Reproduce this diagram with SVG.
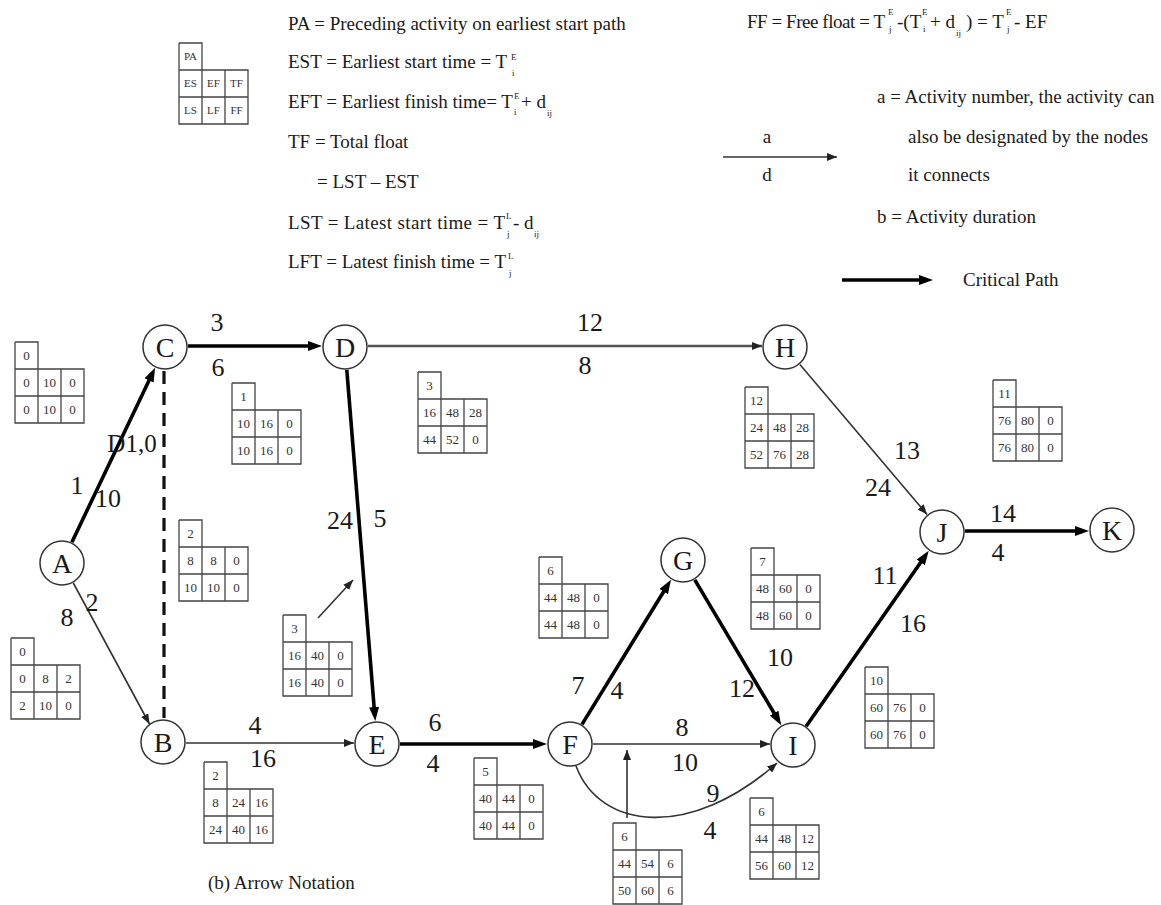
<svg xmlns="http://www.w3.org/2000/svg" xmlns:xlink="http://www.w3.org/1999/xlink" width="1161" height="905" viewBox="0 0 1161 905" font-family="'Liberation Serif','Times New Roman',serif">
<defs>
<style>
text{font-family:"Liberation Serif","Times New Roman",serif;fill:#1a1a1a}
.nc{fill:#fff;stroke:#333;stroke-width:1.5}
.nl{font-size:28px;text-anchor:middle}
.el{font-size:26px;text-anchor:middle}
.lg{font-size:19px}
.sm{font-size:9px}
.thin{fill:none;stroke:#333;stroke-width:1.6;marker-end:url(#ah)}
.gray{fill:none;stroke:#555;stroke-width:2.4;marker-end:url(#ah)}
.bold{fill:none;stroke:#000;stroke-width:3.6;marker-end:url(#ahb)}
.dash{fill:none;stroke:#111;stroke-width:3.2;stroke-dasharray:13 8}
.frame{fill:none;stroke:#444;stroke-width:1.3}
.bt{font-size:13px;text-anchor:middle;fill:#333}
.bl{font-size:11px;text-anchor:middle;fill:#333}
</style>
<marker id="ah" viewBox="0 0 10 8" markerWidth="10" markerHeight="8" refX="10" refY="4" orient="auto" markerUnits="userSpaceOnUse"><path d="M0,0 L10,4 L0,8 z" fill="#222"/></marker>
<marker id="ahb" viewBox="0 0 14 10" markerWidth="14" markerHeight="10" refX="1" refY="5" orient="auto" markerUnits="userSpaceOnUse"><path d="M0,0 L14,5 L0,10 z" fill="#000"/></marker>
<path id="bf" class="frame" d="M0,0 H23 V27 M0,0 V81 H69 V27 H0 M23,27 V81 M46,27 V81 M0,54 H69"/>
</defs>
<rect width="1161" height="905" fill="#fff"/>

<!-- legend -->
<g id="legend">
<g transform="translate(179,43)"><use xlink:href="#bf"/><text class="bl" x="11.5" y="17">PA</text><text class="bl" x="11.5" y="44">ES</text><text class="bl" x="34.5" y="44">EF</text><text class="bl" x="57.5" y="44">TF</text><text class="bl" x="11.5" y="71">LS</text><text class="bl" x="34.5" y="71">LF</text><text class="bl" x="57.5" y="71">FF</text></g>
<text class="lg" x="288" y="30">PA = Preceding activity on earliest start path</text>
<text class="lg" x="288" y="68">EST = Earliest start time = T</text>
<text class="sm" x="511" y="60">E</text><text class="sm" x="512" y="76">i</text>
<text class="lg" x="288" y="108">EFT = Earliest finish time= T</text>
<text class="sm" x="514" y="99">E</text><text class="sm" x="514" y="115">i</text>
<text class="lg" x="521" y="108">+ d</text><text class="sm" x="547" y="116">ij</text>
<text class="lg" x="288" y="148">TF = Total float</text>
<text class="lg" x="317" y="188">= LST – EST</text>
<text class="lg" x="288" y="229" textLength="217" lengthAdjust="spacing">LST = Latest start time = T</text>
<text class="sm" x="506" y="219">L</text><text class="sm" x="507" y="237">j</text>
<text class="lg" x="513" y="229">- d</text><text class="sm" x="534" y="237">ij</text>
<text class="lg" x="288" y="268">LFT = Latest finish time = T</text>
<text class="sm" x="508" y="259">L</text><text class="sm" x="509" y="276">j</text>

<text class="lg" x="747" y="28" textLength="138" lengthAdjust="spacing">FF = Free float = T</text>
<text class="sm" x="888" y="15">E</text><text class="sm" x="889" y="32">j</text>
<text class="lg" x="897" y="28">-(T</text>
<text class="sm" x="922" y="15">E</text><text class="sm" x="923" y="32">i</text>
<text class="lg" x="930" y="28">+ d</text><text class="sm" x="956" y="36">ij</text>
<text class="lg" x="966" y="28">) = T</text>
<text class="sm" x="1006" y="15">E</text><text class="sm" x="1007" y="32">j</text>
<text class="lg" x="1014" y="28">- EF</text>

<line class="thin" x1="723" y1="157" x2="837" y2="157"/>
<text class="lg" x="767" y="143" text-anchor="middle">a</text>
<text class="lg" x="767" y="181" text-anchor="middle">d</text>
<text class="lg" x="877" y="103">a = Activity number, the activity can</text>
<text class="lg" x="908" y="143">also be designated by the nodes</text>
<text class="lg" x="908" y="181">it connects</text>
<text class="lg" x="877" y="223">b = Activity duration</text>
<line class="bold" x1="842" y1="280" x2="920" y2="280"/>
<text class="lg" x="963" y="286">Critical Path</text>
<text class="lg" x="208" y="889">(b) Arrow Notation</text>
</g>

<!-- connectors -->
<g id="connectors">
<line class="bold" x1="71.9" y1="542.2" x2="149.5" y2="379.5"/>
<line class="thin" x1="73.3" y1="583" x2="149.5" y2="724"/>
<line class="dash" x1="164" y1="371" x2="164" y2="718"/>
<line class="bold" x1="188" y1="346" x2="309" y2="346"/>
<line class="gray" x1="368" y1="346" x2="762" y2="346"/>
<line class="bold" x1="346.8" y1="369.9" x2="374.2" y2="708.1"/>
<line class="thin" x1="186" y1="743" x2="354" y2="743"/>
<line class="bold" x1="400" y1="744" x2="534" y2="744"/>
<line class="bold" x1="582" y1="724.4" x2="664.2" y2="590.7"/>
<line class="bold" x1="694.8" y1="579.8" x2="774.6" y2="714"/>
<line class="thin" x1="593" y1="744" x2="770" y2="744"/>
<path class="thin" d="M576,766 C600,830 690,840 777,763"/>
<line class="thin" x1="799.9" y1="364.5" x2="927.1" y2="514.5"/>
<line class="bold" x1="806.2" y1="726.2" x2="921.3" y2="561.5"/>
<line class="bold" x1="965" y1="531" x2="1076" y2="531"/>
<line class="thin" x1="318" y1="618" x2="353" y2="580"/>
<line class="thin" x1="627" y1="818" x2="627" y2="750"/>
</g>

<!-- edge labels -->
<g id="edge-labels">
<text class="el" x="77" y="494">1</text>
<text class="el" x="108" y="507">10</text>
<text class="el" x="67" y="626">8</text>
<text class="el" x="92" y="611">2</text>
<text class="el" x="132" y="452" text-anchor="start" style="font-size:25px">D1,0</text>
<text class="el" x="217" y="331">3</text>
<text class="el" x="218" y="376">6</text>
<text class="el" x="590" y="331">12</text>
<text class="el" x="585" y="374">8</text>
<text class="el" x="340" y="529">24</text>
<text class="el" x="380" y="527">5</text>
<text class="el" x="255" y="734">4</text>
<text class="el" x="263" y="767">16</text>
<text class="el" x="435" y="731">6</text>
<text class="el" x="433" y="772">4</text>
<text class="el" x="578" y="694">7</text>
<text class="el" x="617" y="699">4</text>
<text class="el" x="682" y="736">8</text>
<text class="el" x="685" y="771">10</text>
<text class="el" x="780" y="666">10</text>
<text class="el" x="742" y="697">12</text>
<text class="el" x="713" y="802">9</text>
<text class="el" x="710" y="839">4</text>
<text class="el" x="907" y="459">13</text>
<text class="el" x="878" y="496">24</text>
<text class="el" x="885" y="584">11</text>
<text class="el" x="913" y="632">16</text>
<text class="el" x="1003" y="522">14</text>
<text class="el" x="998" y="561">4</text>
</g>

<!-- nodes -->
<g id="node-A"><circle class="nc" cx="62" cy="563" r="22"/><text class="nl" x="62" y="573">A</text></g>
<g id="node-B"><circle class="nc" cx="163" cy="742" r="22"/><text class="nl" x="163" y="752">B</text></g>
<g id="node-C"><circle class="nc" cx="165" cy="347" r="22"/><text class="nl" x="165" y="357">C</text></g>
<g id="node-D"><circle class="nc" cx="345" cy="347" r="22"/><text class="nl" x="345" y="357">D</text></g>
<g id="node-E"><circle class="nc" cx="377" cy="744" r="22"/><text class="nl" x="377" y="754">E</text></g>
<g id="node-F"><circle class="nc" cx="570" cy="744" r="22"/><text class="nl" x="570" y="754">F</text></g>
<g id="node-G"><circle class="nc" cx="683" cy="560" r="22"/><text class="nl" x="683" y="570">G</text></g>
<g id="node-H"><circle class="nc" cx="785" cy="347" r="22"/><text class="nl" x="785" y="357">H</text></g>
<g id="node-I"><circle class="nc" cx="793" cy="745" r="22"/><text class="nl" x="793" y="755">I</text></g>
<g id="node-J"><circle class="nc" cx="942" cy="532" r="22"/><text class="nl" x="942" y="542">J</text></g>
<g id="node-K"><circle class="nc" cx="1112" cy="530" r="22"/><text class="nl" x="1112" y="540">K</text></g>

<!-- activity boxes -->
<g id="box-A0" transform="translate(15,342)"><use xlink:href="#bf"/><text class="bt" x="11.5" y="18">0</text><text class="bt" x="11.5" y="45">0</text><text class="bt" x="34.5" y="45">10</text><text class="bt" x="57.5" y="45">0</text><text class="bt" x="11.5" y="72">0</text><text class="bt" x="34.5" y="72">10</text><text class="bt" x="57.5" y="72">0</text></g>
<g id="box-1" transform="translate(232,383)"><use xlink:href="#bf"/><text class="bt" x="11.5" y="18">1</text><text class="bt" x="11.5" y="45">10</text><text class="bt" x="34.5" y="45">16</text><text class="bt" x="57.5" y="45">0</text><text class="bt" x="11.5" y="72">10</text><text class="bt" x="34.5" y="72">16</text><text class="bt" x="57.5" y="72">0</text></g>
<g id="box-2a" transform="translate(179,520)"><use xlink:href="#bf"/><text class="bt" x="11.5" y="18">2</text><text class="bt" x="11.5" y="45">8</text><text class="bt" x="34.5" y="45">8</text><text class="bt" x="57.5" y="45">0</text><text class="bt" x="11.5" y="72">10</text><text class="bt" x="34.5" y="72">10</text><text class="bt" x="57.5" y="72">0</text></g>
<g id="box-3a" transform="translate(418,372)"><use xlink:href="#bf"/><text class="bt" x="11.5" y="18">3</text><text class="bt" x="11.5" y="45">16</text><text class="bt" x="34.5" y="45">48</text><text class="bt" x="57.5" y="45">28</text><text class="bt" x="11.5" y="72">44</text><text class="bt" x="34.5" y="72">52</text><text class="bt" x="57.5" y="72">0</text></g>
<g id="box-12" transform="translate(745,387)"><use xlink:href="#bf"/><text class="bt" x="11.5" y="18">12</text><text class="bt" x="11.5" y="45">24</text><text class="bt" x="34.5" y="45">48</text><text class="bt" x="57.5" y="45">28</text><text class="bt" x="11.5" y="72">52</text><text class="bt" x="34.5" y="72">76</text><text class="bt" x="57.5" y="72">28</text></g>
<g id="box-11" transform="translate(993,380)"><use xlink:href="#bf"/><text class="bt" x="11.5" y="18">11</text><text class="bt" x="11.5" y="45">76</text><text class="bt" x="34.5" y="45">80</text><text class="bt" x="57.5" y="45">0</text><text class="bt" x="11.5" y="72">76</text><text class="bt" x="34.5" y="72">80</text><text class="bt" x="57.5" y="72">0</text></g>
<g id="box-6a" transform="translate(539,557)"><use xlink:href="#bf"/><text class="bt" x="11.5" y="18">6</text><text class="bt" x="11.5" y="45">44</text><text class="bt" x="34.5" y="45">48</text><text class="bt" x="57.5" y="45">0</text><text class="bt" x="11.5" y="72">44</text><text class="bt" x="34.5" y="72">48</text><text class="bt" x="57.5" y="72">0</text></g>
<g id="box-7" transform="translate(751,548)"><use xlink:href="#bf"/><text class="bt" x="11.5" y="18">7</text><text class="bt" x="11.5" y="45">48</text><text class="bt" x="34.5" y="45">60</text><text class="bt" x="57.5" y="45">0</text><text class="bt" x="11.5" y="72">48</text><text class="bt" x="34.5" y="72">60</text><text class="bt" x="57.5" y="72">0</text></g>
<g id="box-A1" transform="translate(11,638)"><use xlink:href="#bf"/><text class="bt" x="11.5" y="18">0</text><text class="bt" x="11.5" y="45">0</text><text class="bt" x="34.5" y="45">8</text><text class="bt" x="57.5" y="45">2</text><text class="bt" x="11.5" y="72">2</text><text class="bt" x="34.5" y="72">10</text><text class="bt" x="57.5" y="72">0</text></g>
<g id="box-3b" transform="translate(283,615)"><use xlink:href="#bf"/><text class="bt" x="11.5" y="18">3</text><text class="bt" x="11.5" y="45">16</text><text class="bt" x="34.5" y="45">40</text><text class="bt" x="57.5" y="45">0</text><text class="bt" x="11.5" y="72">16</text><text class="bt" x="34.5" y="72">40</text><text class="bt" x="57.5" y="72">0</text></g>
<g id="box-10" transform="translate(865,667)"><use xlink:href="#bf"/><text class="bt" x="11.5" y="18">10</text><text class="bt" x="11.5" y="45">60</text><text class="bt" x="34.5" y="45">76</text><text class="bt" x="57.5" y="45">0</text><text class="bt" x="11.5" y="72">60</text><text class="bt" x="34.5" y="72">76</text><text class="bt" x="57.5" y="72">0</text></g>
<g id="box-2b" transform="translate(204,762)"><use xlink:href="#bf"/><text class="bt" x="11.5" y="18">2</text><text class="bt" x="11.5" y="45">8</text><text class="bt" x="34.5" y="45">24</text><text class="bt" x="57.5" y="45">16</text><text class="bt" x="11.5" y="72">24</text><text class="bt" x="34.5" y="72">40</text><text class="bt" x="57.5" y="72">16</text></g>
<g id="box-5" transform="translate(474,758)"><use xlink:href="#bf"/><text class="bt" x="11.5" y="18">5</text><text class="bt" x="11.5" y="45">40</text><text class="bt" x="34.5" y="45">44</text><text class="bt" x="57.5" y="45">0</text><text class="bt" x="11.5" y="72">40</text><text class="bt" x="34.5" y="72">44</text><text class="bt" x="57.5" y="72">0</text></g>
<g id="box-6b" transform="translate(613,823)"><use xlink:href="#bf"/><text class="bt" x="11.5" y="18">6</text><text class="bt" x="11.5" y="45">44</text><text class="bt" x="34.5" y="45">54</text><text class="bt" x="57.5" y="45">6</text><text class="bt" x="11.5" y="72">50</text><text class="bt" x="34.5" y="72">60</text><text class="bt" x="57.5" y="72">6</text></g>
<g id="box-6c" transform="translate(750,798)"><use xlink:href="#bf"/><text class="bt" x="11.5" y="18">6</text><text class="bt" x="11.5" y="45">44</text><text class="bt" x="34.5" y="45">48</text><text class="bt" x="57.5" y="45">12</text><text class="bt" x="11.5" y="72">56</text><text class="bt" x="34.5" y="72">60</text><text class="bt" x="57.5" y="72">12</text></g>
</svg>
